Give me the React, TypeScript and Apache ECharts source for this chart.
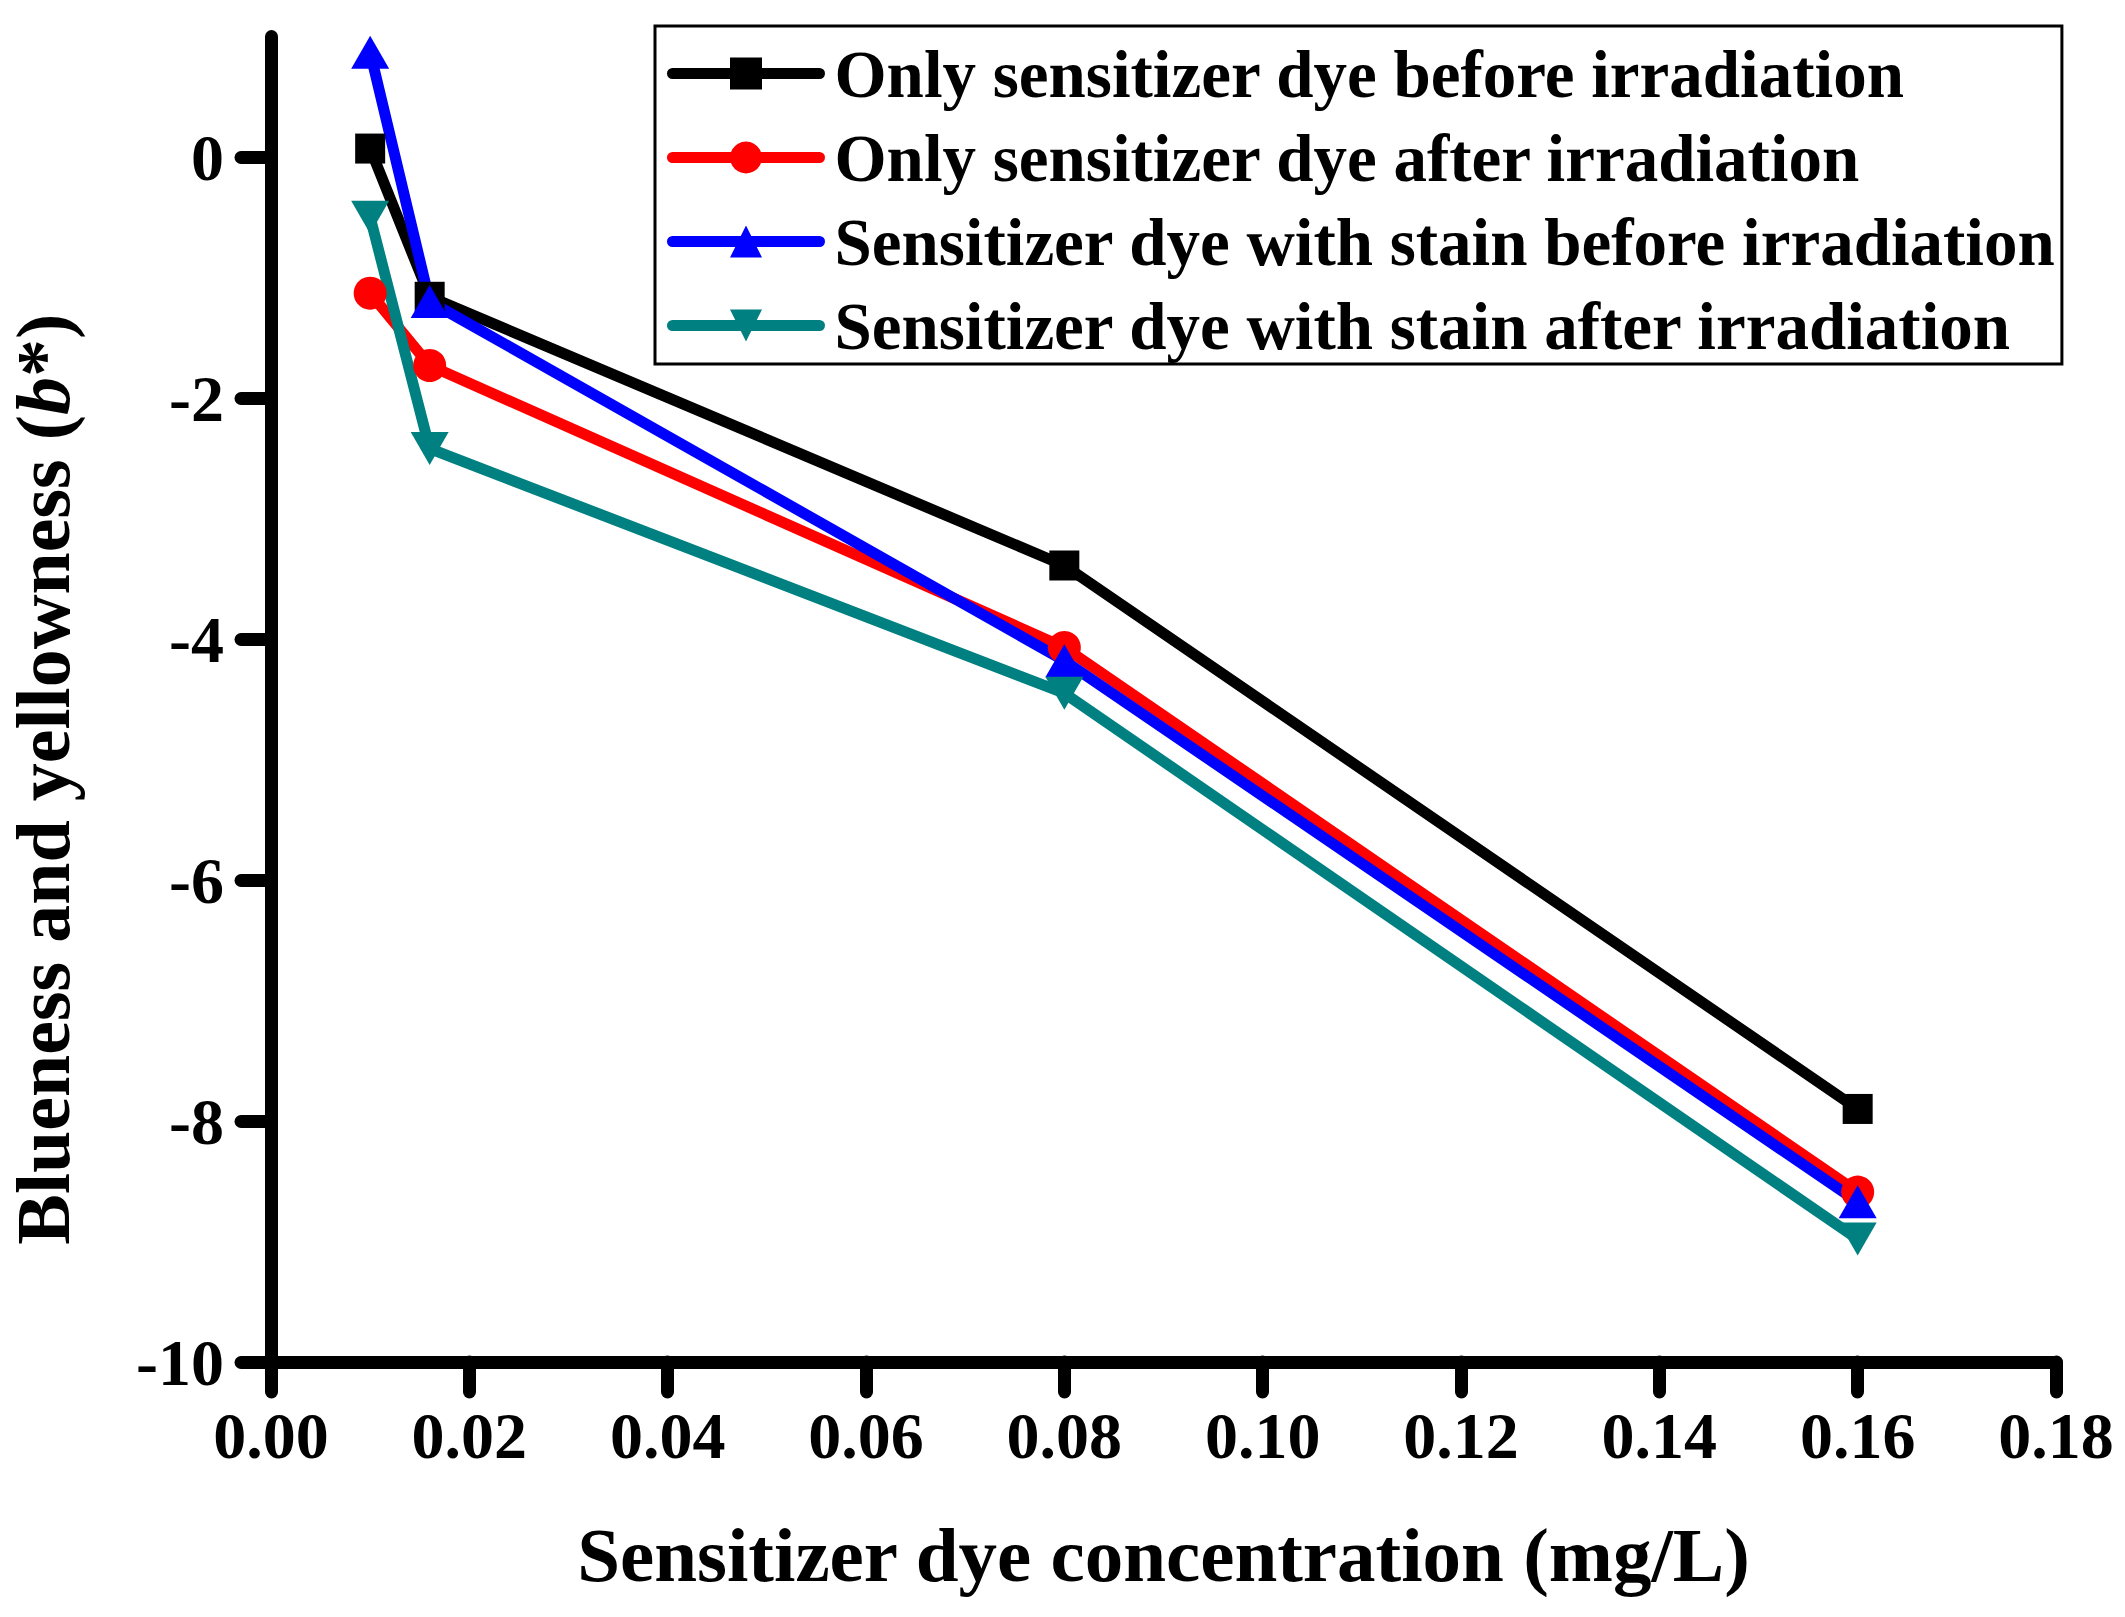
import React, { useEffect, useRef } from "react";
import * as echarts from "echarts";

const xValues = [0.01, 0.016, 0.08, 0.16];
const onlyBefore = [0.07, -1.16, -3.39, -7.9];
const onlyAfter = [-1.13, -1.73, -4.07, -8.59];
const stainBefore = [0.87, -1.2, -4.18, -8.67];
const stainAfter = [-0.5, -2.42, -4.45, -8.98];
const yTickValues = [-10, -8, -6, -4, -2, 0];
const seriesNames = [
  "Only sensitizer dye before irradiation",
  "Only sensitizer dye after irradiation",
  "Sensitizer dye with stain before irradiation",
  "Sensitizer dye with stain after irradiation",
];
const xTitle = "Sensitizer dye concentration (mg/L)";

const FONT = "'Liberation Serif', 'Times New Roman', serif";

function pairs(ys: number[]) {
  return xValues.map((x, i) => [x, ys[i]]);
}

export default function App() {
  const ref = useRef<HTMLDivElement>(null);
  useEffect(() => {
    if (!ref.current) return;
    const chart = echarts.init(ref.current, null, { renderer: "svg", width: 2125, height: 1617 });
    const lineCommon = (color: string) => ({
      type: "line" as const,
      lineStyle: { color, width: 11, cap: "round", join: "round" },
      itemStyle: { color },
      emphasis: { disabled: true },
      z: 2,
    });
    chart.setOption({
      animation: false,
      backgroundColor: "#ffffff",
      grid: {
        left: 271,
        right: 69,
        top: 36.5,
        bottom: 255,
        containLabel: false,
        outerBoundsMode: "none",
      },
      legend: {
        orient: "vertical",
        left: 655,
        top: 26,
        itemWidth: 147,
        itemHeight: 40,
        itemGap: 17,
        padding: [14, 6, 5, 12],
        borderColor: "#000",
        borderWidth: 3,
        selectedMode: false,
        lineStyle: { width: 11, cap: "round" },
        textStyle: {
          fontFamily: FONT,
          fontWeight: "bold",
          fontSize: 67,
          lineHeight: 67,
          color: "#000",
          padding: [0, 0, 0, 10],
        },
        data: seriesNames,
      },
      xAxis: {
        type: "value",
        min: 0,
        max: 0.18,
        interval: 0.02,
        name: xTitle,
        nameLocation: "middle",
        nameGap: 154,
        nameTextStyle: { fontFamily: FONT, fontWeight: "bold", fontSize: 77, color: "#000" },
        axisLine: { show: true, onZero: false, lineStyle: { color: "#000", width: 13, cap: "round" } },
        axisTick: { show: true, length: 30, lineStyle: { color: "#000", width: 13, cap: "round" } },
        axisLabel: {
          margin: 40,
          fontFamily: FONT,
          fontWeight: "bold",
          fontSize: 66,
          color: "#000",
          formatter: (v: number) => v.toFixed(2),
        },
        splitLine: { show: false },
      },
      yAxis: {
        type: "value",
        min: -10,
        max: 1,
        interval: 2,
        name: "Blueness and yellowness ({i|b}*)",
        nameLocation: "middle",
        nameRotate: 90,
        nameGap: 190,
        nameTextStyle: {
          fontFamily: FONT,
          fontWeight: "bold",
          fontSize: 76,
          lineHeight: 76,
          color: "#000",
          padding: [0, 160, 0, 0],
          rich: {
            i: {
              fontFamily: FONT,
              fontWeight: "bold",
              fontStyle: "italic",
              fontSize: 76,
              lineHeight: 76,
              color: "#000",
            },
          },
        },
        axisLine: { show: true, onZero: false, lineStyle: { color: "#000", width: 13, cap: "round" } },
        axisTick: {
          show: true,
          length: 30,
          customValues: yTickValues,
          lineStyle: { color: "#000", width: 13, cap: "round" },
        },
        axisLabel: {
          margin: 47,
          customValues: yTickValues,
          fontFamily: FONT,
          fontWeight: "bold",
          fontSize: 66,
          color: "#000",
        },
        splitLine: { show: false },
      },
      series: [
        { ...lineCommon("#000000"), name: seriesNames[0], data: pairs(onlyBefore), symbol: "rect", symbolSize: 30 },
        { ...lineCommon("#ff0000"), name: seriesNames[1], data: pairs(onlyAfter), symbol: "circle", symbolSize: 33 },
        { ...lineCommon("#0000ff"), name: seriesNames[2], data: pairs(stainBefore), symbol: "triangle", symbolSize: [38, 33] },
        {
          ...lineCommon("#008080"),
          name: seriesNames[3],
          data: pairs(stainAfter),
          symbol: "triangle",
          symbolSize: [38, 33],
          symbolRotate: 180,
        },
      ],
    });
    return () => chart.dispose();
  }, []);
  return (
    <div
      ref={ref}
      style={{ position: "absolute", left: 0, top: 0, width: 2125, height: 1617, background: "#fff" }}
    />
  );
}
